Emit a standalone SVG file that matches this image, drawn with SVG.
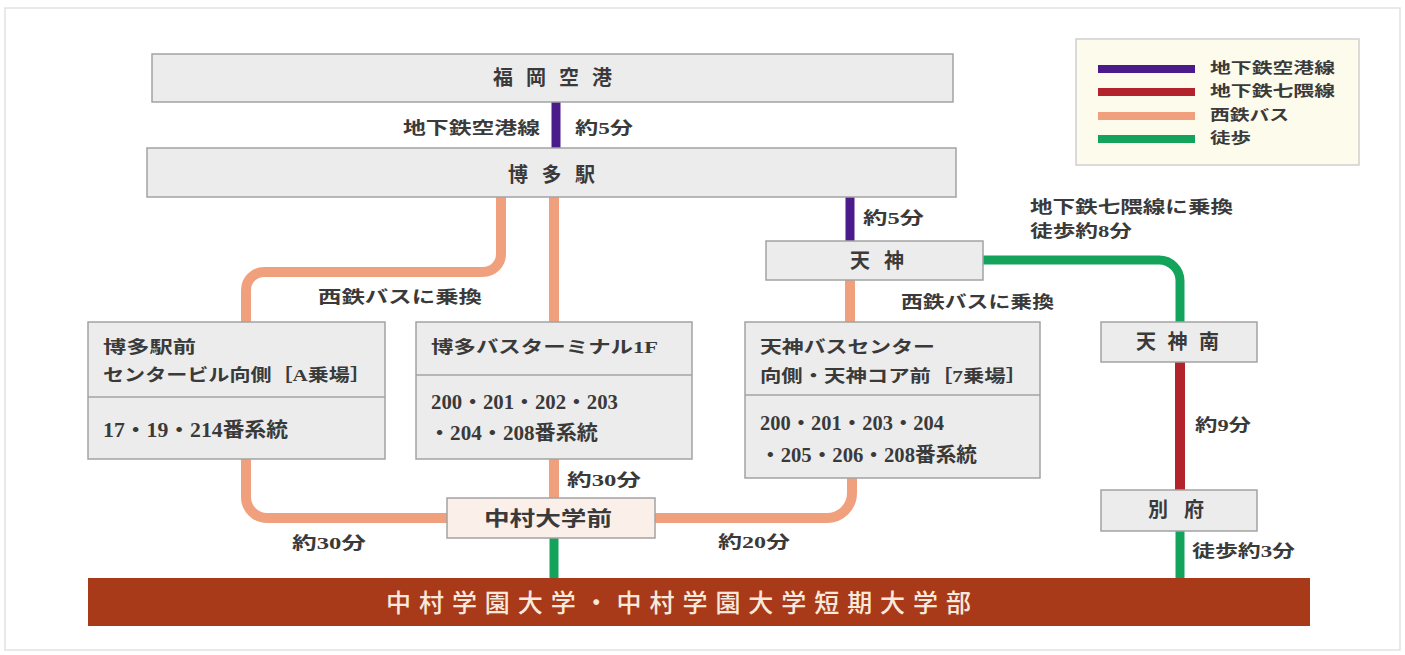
<svg xmlns="http://www.w3.org/2000/svg" width="1405" height="655" viewBox="0 0 1405 655">
<style>
  text { font-family: "Liberation Serif", "Noto Sans CJK JP", serif; fill: #3a3a3a; dominant-baseline: central; font-weight: 700; }
  .t17 { font-size: 17px; }
  .t20n { font-size: 20px; }
  .t20 { font-size: 20px; }
  .t15 { font-size: 15px; }
  .box { fill: #ececec; stroke: #a3a3a3; stroke-width: 1.5; }
  .div { stroke: #a3a3a3; stroke-width: 1.5; fill: none; }
  .ln { fill: none; stroke-linecap: butt; }
  .purple { stroke: #4b1b8c; stroke-width: 9; }
  .red { stroke: #b3232b; stroke-width: 10; }
  .orange { stroke: #f0a07c; stroke-width: 10; }
  .green { stroke: #14a35b; stroke-width: 9; }
  .bar { fill: #a83a1a; }
  .bartext { font-size: 25px; fill: #f8e9dc; font-weight: 500; }
</style>
<rect x="5" y="8" width="1395" height="642" fill="#ffffff" stroke="#e2e2e2" stroke-width="1.5"/>

<g id="connectors">
  <line class="ln purple" x1="556" y1="102" x2="556" y2="148"/>
  <line class="ln purple" x1="850" y1="197" x2="850" y2="241"/>
  <path class="ln orange" d="M501 197 V254 A18 18 0 0 1 483 272 H264 A18 18 0 0 0 246 290 V322"/>
  <line class="ln orange" x1="554" y1="197" x2="554" y2="322"/>
  <line class="ln orange" x1="554" y1="459" x2="554" y2="498"/>
  <path class="ln orange" d="M246 459 V497 A21 21 0 0 0 267 518 H447"/>
  <path class="ln orange" d="M655 518 H827 A25 25 0 0 0 852 493 V478"/>
  <line class="ln orange" x1="850" y1="280" x2="850" y2="322"/>
  <path class="ln green" d="M983 260 H1159 A21 21 0 0 1 1180 281 V322"/>
  <line class="ln red" x1="1180" y1="362" x2="1180" y2="490"/>
  <line class="ln green" x1="1180" y1="531" x2="1180" y2="578"/>
  <line class="ln green" x1="554" y1="538" x2="554" y2="578"/>
  <text class="t17" x="403" y="128" textLength="137" lengthAdjust="spacingAndGlyphs">地下鉄空港線</text>
  <text class="t17" x="575" y="128" textLength="58" lengthAdjust="spacingAndGlyphs">約5分</text>
  <text class="t17" x="318" y="297" textLength="164" lengthAdjust="spacingAndGlyphs">西鉄バスに乗換</text>
  <text class="t17" x="863" y="218" textLength="61" lengthAdjust="spacingAndGlyphs">約5分</text>
  <text class="t17" x="1030" y="207" textLength="203" lengthAdjust="spacingAndGlyphs">地下鉄七隈線に乗換</text>
  <text class="t17" x="1030" y="231" textLength="102" lengthAdjust="spacingAndGlyphs">徒歩約8分</text>
  <text class="t17" x="901" y="302" textLength="153" lengthAdjust="spacingAndGlyphs">西鉄バスに乗換</text>
  <text class="t17" x="567" y="480" textLength="74" lengthAdjust="spacingAndGlyphs">約30分</text>
  <text class="t17" x="292" y="543" textLength="74" lengthAdjust="spacingAndGlyphs">約30分</text>
  <text class="t17" x="718" y="542" textLength="72" lengthAdjust="spacingAndGlyphs">約20分</text>
  <text class="t17" x="1195" y="425" textLength="56" lengthAdjust="spacingAndGlyphs">約9分</text>
  <text class="t17" x="1192" y="551" textLength="103" lengthAdjust="spacingAndGlyphs">徒歩約3分</text>
</g>

<g id="fukuoka-airport">
  <rect class="box" x="152" y="54" width="801" height="48"/>
  <text class="t20" x="493" y="78" textLength="119" lengthAdjust="spacing">福岡空港</text>
</g>

<g id="hakata-station">
  <rect class="box" x="147" y="148" width="809" height="49"/>
  <text class="t20" x="508" y="175" textLength="87" lengthAdjust="spacing">博多駅</text>
</g>

<g id="tenjin">
  <rect class="box" x="766" y="241" width="217" height="39"/>
  <text class="t20" x="850" y="261" textLength="54" lengthAdjust="spacing">天神</text>
</g>

<g id="hakata-ekimae">
  <rect class="box" x="88" y="322" width="297" height="137"/>
  <line class="div" x1="88" y1="397" x2="385" y2="397"/>
  <text class="t17" x="103" y="347" textLength="93" lengthAdjust="spacingAndGlyphs">博多駅前</text>
  <text class="t17" x="103" y="375" textLength="268" lengthAdjust="spacingAndGlyphs">センタービル向側［A乗場］</text>
  <text class="t20n" x="103" y="430" textLength="185" lengthAdjust="spacingAndGlyphs">17・19・214番系統</text>
</g>

<g id="hakata-bus-terminal">
  <rect class="box" x="416" y="322" width="276" height="137"/>
  <line class="div" x1="416" y1="375" x2="692" y2="375"/>
  <text class="t17" x="431" y="347" textLength="227" lengthAdjust="spacingAndGlyphs">博多バスターミナル1F</text>
  <text class="t20n" x="431" y="402" textLength="187" lengthAdjust="spacingAndGlyphs">200・201・202・203</text>
  <text class="t20n" x="429" y="433" textLength="169" lengthAdjust="spacingAndGlyphs">・204・208番系統</text>
</g>

<g id="tenjin-bus-center">
  <rect class="box" x="745" y="322" width="295" height="156"/>
  <line class="div" x1="745" y1="395" x2="1040" y2="395"/>
  <text class="t17" x="760" y="347" textLength="175" lengthAdjust="spacingAndGlyphs">天神バスセンター</text>
  <text class="t17" x="760" y="376" textLength="267" lengthAdjust="spacingAndGlyphs">向側・天神コア前［7乗場］</text>
  <text class="t20n" x="760" y="423" textLength="184" lengthAdjust="spacingAndGlyphs">200・201・203・204</text>
  <text class="t20n" x="760" y="455" textLength="217" lengthAdjust="spacingAndGlyphs">・205・206・208番系統</text>
</g>

<g id="nakamura-daigakumae">
  <rect x="447" y="498" width="208" height="40" fill="#fbefe9" stroke="#a3a3a3" stroke-width="1.5"/>
  <text class="t20" x="484" y="519" textLength="128" lengthAdjust="spacingAndGlyphs">中村大学前</text>
</g>

<g id="tenjin-minami">
  <rect class="box" x="1101" y="322" width="156" height="40"/>
  <text class="t20" x="1136" y="342" textLength="83" lengthAdjust="spacing">天神南</text>
</g>

<g id="befu">
  <rect class="box" x="1101" y="490" width="156" height="41"/>
  <text class="t20" x="1148" y="510" textLength="56" lengthAdjust="spacing">別府</text>
</g>

<g id="university">
  <rect class="bar" x="88" y="578" width="1222" height="48"/>
  <text class="bartext" x="386" y="603" textLength="585" lengthAdjust="spacing">中村学園大学・中村学園大学短期大学部</text>
</g>

<g id="legend">
  <rect x="1076" y="39" width="283" height="126" fill="#fdfbec" stroke="#cfcfcf" stroke-width="1.5"/>
  <line x1="1098" y1="69" x2="1195" y2="69" stroke="#4b1b8c" stroke-width="8"/>
  <line x1="1098" y1="92" x2="1195" y2="92" stroke="#b3232b" stroke-width="8"/>
  <line x1="1098" y1="116" x2="1195" y2="116" stroke="#f0a07c" stroke-width="8"/>
  <line x1="1098" y1="139" x2="1195" y2="139" stroke="#14a35b" stroke-width="8"/>
  <text class="t15" x="1210" y="68" textLength="125" lengthAdjust="spacingAndGlyphs">地下鉄空港線</text>
  <text class="t15" x="1210" y="91" textLength="125" lengthAdjust="spacingAndGlyphs">地下鉄七隈線</text>
  <text class="t15" x="1210" y="115" textLength="79" lengthAdjust="spacingAndGlyphs">西鉄バス</text>
  <text class="t15" x="1210" y="138" textLength="41" lengthAdjust="spacingAndGlyphs">徒歩</text>
</g>
</svg>
